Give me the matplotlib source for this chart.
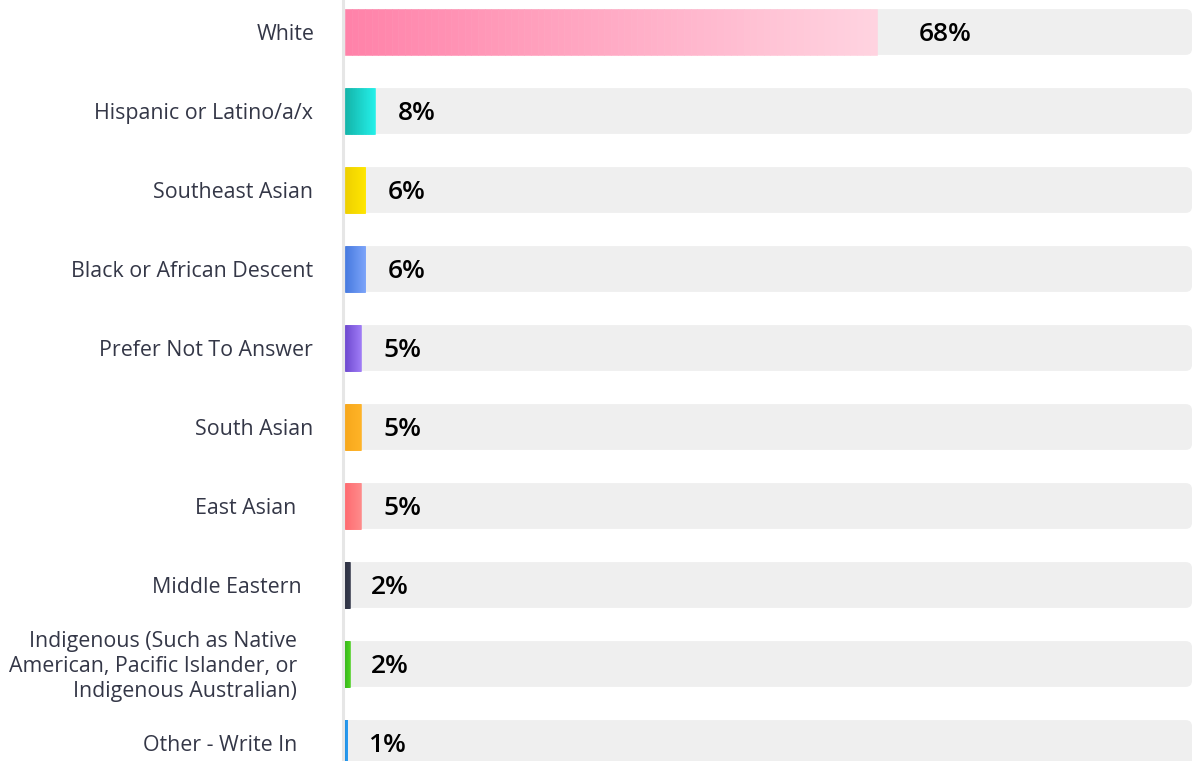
import numpy as np
import matplotlib.pyplot as plt
from matplotlib.colors import to_rgb
from matplotlib.patches import FancyBboxPatch

categories = [
    "White",
    "Hispanic or Latino/a/x",
    "Southeast Asian",
    "Black or African Descent",
    "Prefer Not To Answer",
    "South Asian",
    "East Asian",
    "Middle Eastern",
    "Indigenous (Such as Native\nAmerican, Pacific Islander, or\nIndigenous Australian)",
    "Other - Write In",
]
shares = [68, 8, 6, 6, 5, 5, 5, 2, 2, 1]

# left -> right gradient stops for each bar
bar_colors = [
    ("#ff82a9", "#ffd3e0"),
    ("#12b3a8", "#22efe8"),
    ("#efd000", "#ffe600"),
    ("#4679e0", "#7aa3f9"),
    ("#6e49d0", "#9e7af5"),
    ("#f8a81c", "#ffb326"),
    ("#ff6b70", "#ff8a8a"),
    ("#2f3343", "#363a4c"),
    ("#38b81c", "#4cd020"),
    ("#1a8de0", "#2a9af0"),
]

# distance (px) between the axis line and the right edge of each category label
label_gap_px = [30, 32, 32, 32, 32, 32, 49, 43, 48, 48]

plt.rcParams["font.family"] = ["Open Sans", "DejaVu Sans"]

W, H = 1192, 761
power = 1.35
x_max = 96
bar_h = 0.58
row_px = 79.0
PT = 0.72  # points per pixel at dpi 100


def fwd(v):
    v = np.asarray(v, dtype=float)
    return np.sign(v) * np.abs(v) ** power


def inv(v):
    v = np.asarray(v, dtype=float)
    return np.sign(v) * np.abs(v) ** (1 / power)


fig = plt.figure(figsize=(W / 100, H / 100), dpi=100)
ax = fig.add_axes([345 / W, 0, 847 / W, 1])
ax.set_xscale("function", functions=(fwd, inv))
ax.set_xlim(0, x_max)
ax.set_ylim((H - 32) / row_px, -32 / row_px)

rows = np.arange(len(categories))

# grey tracks, square on the left, rounded on the right
for r in rows:
    track = FancyBboxPatch(
        (0, r - bar_h / 2), 1, bar_h,
        boxstyle="round,pad=0,rounding_size=0.0075",
        mutation_aspect=(1 / row_px) / (1 / 847),
        transform=ax.get_yaxis_transform(),
        facecolor="#efefef", edgecolor="none", zorder=1,
    )
    ax.add_patch(track)
    ax.barh(r, 4, height=bar_h, color="#efefef", linewidth=0, zorder=1)

# gradient bars built from thin slices
n_slices = 80
for r, v, (c0, c1) in zip(rows, shares, bar_colors):
    edges = inv(np.linspace(0, fwd(v), n_slices + 1))
    t = np.linspace(0, 1, n_slices)[:, None]
    cols = (1 - t) * np.array(to_rgb(c0)) + t * np.array(to_rgb(c1))
    ax.barh(
        np.full(n_slices, r), edges[1:] - edges[:-1], left=edges[:-1],
        height=bar_h, color=cols, edgecolor=cols, linewidth=0.4, zorder=2,
    )
    gap = 21 + 0.31 * v
    ax.annotate(
        f"{v}%", xy=(v, r), xytext=(gap * PT, -2 * PT), textcoords="offset points",
        ha="left", va="center", fontsize=19, fontweight="semibold",
        color="#000000", zorder=3,
    )

for r, label, gap in zip(rows, categories, label_gap_px):
    ax.annotate(
        label, xy=(0, r), xycoords=("axes fraction", "data"),
        xytext=(-gap * PT, -2 * PT), textcoords="offset points",
        ha="right", va="center", multialignment="right",
        fontsize=15.4, color="#343747", linespacing=1.25,
        annotation_clip=False,
    )

for side in ["top", "right", "bottom"]:
    ax.spines[side].set_visible(False)
ax.spines["left"].set_color("#e6e6e6")
ax.spines["left"].set_linewidth(2.2)
ax.spines["left"].set_position(("outward", 1.1))
ax.set_xticks([])
ax.set_yticks([])
ax.minorticks_off()

fig.savefig("out.png", dpi=100, facecolor="white")
